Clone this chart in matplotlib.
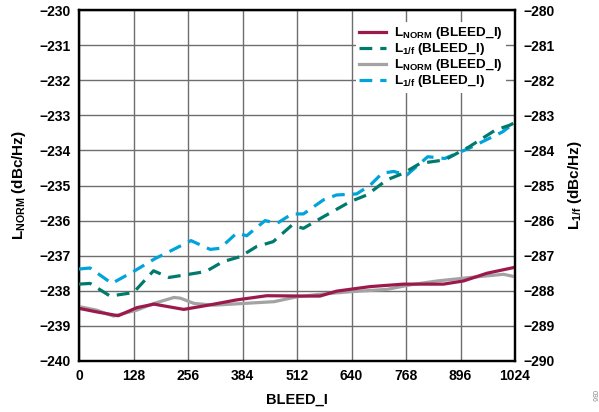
import matplotlib
matplotlib.use("Agg")
import matplotlib.pyplot as plt

plt.rcParams['font.family'] = ['Liberation Sans', 'DejaVu Sans']
plt.rcParams['font.weight'] = 'bold'
plt.rcParams['mathtext.fontset'] = 'custom'
plt.rcParams['mathtext.rm'] = 'Liberation Sans:bold'
plt.rcParams['mathtext.it'] = 'Liberation Sans:bold'
plt.rcParams['mathtext.bf'] = 'Liberation Sans:bold'
plt.rcParams['axes.unicode_minus'] = True

# L_NORM series (left axis, dBc/Hz)
norm1_x = [0, 41, 92, 136, 176, 246, 308, 370, 441, 527, 566, 605, 684, 762, 856, 903, 958, 1024]
norm1_y = [-238.50, -238.60, -238.71, -238.48, -238.38, -238.53, -238.40, -238.26, -238.14,
           -238.15, -238.15, -238.01, -237.88, -237.81, -237.81, -237.72, -237.50, -237.33]

norm2_x = [0, 41, 81, 136, 176, 223, 238, 270, 317, 387, 458, 512, 574, 645, 723, 778, 841, 919, 997, 1024]
norm2_y = [-238.45, -238.55, -238.72, -238.55, -238.36, -238.19, -238.21, -238.36, -238.41, -238.36,
           -238.31, -238.17, -238.09, -238.02, -237.96, -237.83, -237.72, -237.62, -237.53, -237.60]

# L_1/f series (right axis, dBc/Hz)
f1_x = [0, 26, 73, 128, 175, 211, 258, 298, 338, 378, 417, 456, 500, 527, 574, 637, 676, 723, 762,
        801, 859, 916, 978, 1012, 1024]
f1_y = [-287.81, -287.79, -288.15, -288.05, -287.43, -287.62, -287.53, -287.45, -287.17, -287.03,
        -286.74, -286.60, -286.13, -286.22, -285.89, -285.46, -285.27, -284.84, -284.65,
        -284.37, -284.27, -283.90, -283.42, -283.28, -283.20]

f2_x = [0, 26, 77, 128, 179, 219, 263, 308, 331, 370, 394, 437, 465, 500, 527, 574, 605, 652, 684,
        712, 739, 770, 819, 859, 916, 963, 995, 1024]
f2_y = [-287.38, -287.35, -287.79, -287.45, -287.08, -286.84, -286.57, -286.82, -286.79, -286.36,
        -286.43, -286.00, -286.08, -285.81, -285.81, -285.41, -285.27, -285.24, -284.99,
        -284.65, -284.60, -284.70, -284.18, -284.23, -283.94, -283.66, -283.47, -283.20]

xticks = [0, 128, 256, 384, 512, 640, 768, 896, 1024]
left_ticks = list(range(-240, -229))
right_ticks = list(range(-290, -279))

c_norm1 = '#9C1A4B'
c_f1 = '#007A6C'
c_norm2 = '#A3A3A3'
c_f2 = '#00A3DA'

fig = plt.figure(figsize=(5.99, 4.12), dpi=100)
ax = fig.add_axes([0.1319, 0.1238, 0.7279, 0.8519])
ax2 = ax.twinx()

ax.set_xlim(0, 1024)
ax.set_ylim(-240, -230)
ax2.set_ylim(-290, -280)
ax.set_xticks(xticks)
ax.set_yticks(left_ticks)
ax2.set_yticks(right_ticks)
ax.grid(True, color='#6E6E6E', linewidth=1.0)
ax.tick_params(length=0, labelsize=10, pad=6)
ax2.tick_params(length=0, labelsize=10, pad=6)
for sp in ax.spines.values():
    sp.set_linewidth(1.6)
for sp in ax2.spines.values():
    sp.set_linewidth(1.6)

l1, = ax.plot(norm1_x, norm1_y, color=c_norm1, lw=2.3, zorder=4, solid_joinstyle='round')
l3, = ax.plot(norm2_x, norm2_y, color=c_norm2, lw=2.3, zorder=3, solid_joinstyle='round')
l2, = ax2.plot(f1_x, f1_y, color=c_f1, lw=2.3, ls=(0, (4, 2.5)), zorder=4)
l4, = ax2.plot(f2_x, f2_y, color=c_f2, lw=2.3, ls=(0, (4, 2.5)), zorder=3)

ax.set_xlabel('BLEED_I', fontsize=10.5, fontweight='bold', labelpad=7)
ax.set_ylabel(r'L$_{NORM}$ (dBc/Hz)', fontsize=11, fontweight='bold', labelpad=8)
ax2.set_ylabel(r'L$_{1/f}$ (dBc/Hz)', fontsize=11, fontweight='bold', labelpad=8)

labels = [r'L$_{NORM}$ (BLEED_I)', r'L$_{1/f}$ (BLEED_I)', r'L$_{NORM}$ (BLEED_I)', r'L$_{1/f}$ (BLEED_I)']
leg = ax2.legend([l1, l2, l3, l4], labels, loc='upper right', bbox_to_anchor=(0.995, 0.985),
                 frameon=True, fancybox=False, edgecolor='none', facecolor='white', framealpha=1,
                 fontsize=9.7, handlelength=2.0, labelspacing=0.0, borderpad=0.25, handletextpad=0.6)
leg.set_zorder(10)

fig.text(0.985, 0.03, '036', fontsize=5, color='#888888', rotation=270, fontweight='normal')

fig.savefig('out.png', dpi=100)
